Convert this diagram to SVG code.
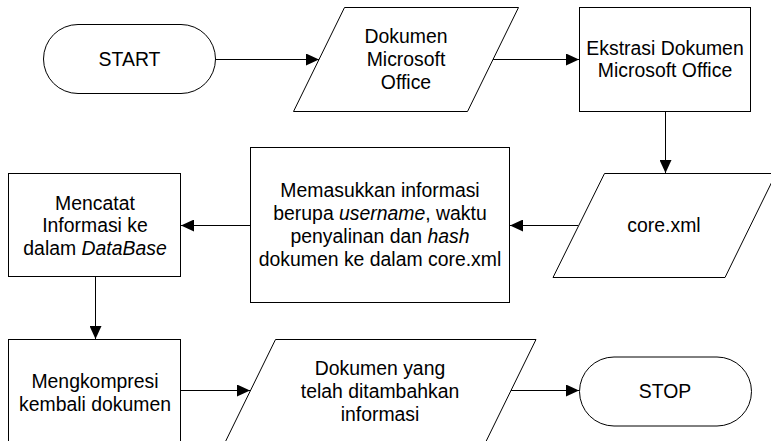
<svg xmlns="http://www.w3.org/2000/svg" width="771" height="441" viewBox="0 0 771 441">
<defs>
<style>
.s{fill:#fff;stroke:#000;stroke-width:1}
.c{fill:none;stroke:#000;stroke-width:1}
text{font-family:"Liberation Sans",Arial,sans-serif;font-size:19.4px;fill:#000;text-anchor:middle}
.i{font-style:italic}
</style>
<marker id="ah" markerUnits="userSpaceOnUse" markerWidth="13" markerHeight="12" refX="13" refY="6" orient="auto">
<path d="M0,0 L13,6 L0,12 z" fill="#000"/>
</marker>
</defs>
<rect width="771" height="441" fill="#fff"/>
<g id="connectors">
<path class="c" d="M216,59.5 H319" marker-end="url(#ah)"/>
<path class="c" d="M493,59.5 H579" marker-end="url(#ah)"/>
<path class="c" d="M665.5,111.5 V173" marker-end="url(#ah)"/>
<path class="c" d="M578,225.5 H510" marker-end="url(#ah)"/>
<path class="c" d="M250,225.5 H181" marker-end="url(#ah)"/>
<path class="c" d="M95.5,276.5 V339" marker-end="url(#ah)"/>
<path class="c" d="M181,390.5 H250" marker-end="url(#ah)"/>
<path class="c" d="M511,390.5 H579" marker-end="url(#ah)"/>
</g>
<g id="start">
<rect class="s" x="43.5" y="24.5" width="172" height="69" rx="34.5"/>
<text x="129.5" y="66">START</text>
</g>
<g id="dokumen">
<polygon class="s" points="344.5,7.5 518.5,7.5 467.5,111.5 293.5,111.5"/>
<text x="406" y="42.5">Dokumen</text>
<text x="406" y="65.5">Microsoft</text>
<text x="406" y="88.5">Office</text>
</g>
<g id="ekstrasi">
<rect class="s" x="579.5" y="7.5" width="171" height="104"/>
<text x="665" y="55">Ekstrasi Dokumen</text>
<text x="665" y="77">Microsoft Office</text>
</g>
<g id="corexml">
<polygon class="s" points="604.5,173.5 776,173.5 725,277.5 553,277.5"/>
<text x="664" y="232">core.xml</text>
</g>
<g id="memasukkan">
<rect class="s" x="250.5" y="147.5" width="259" height="155"/>
<text x="380" y="197">Memasukkan informasi</text>
<text x="380" y="220">berupa <tspan class="i">username</tspan>, waktu</text>
<text x="380" y="243">penyalinan dan <tspan class="i">hash</tspan></text>
<text x="380" y="266">dokumen ke dalam core.xml</text>
</g>
<g id="mencatat">
<rect class="s" x="8.5" y="173.5" width="172" height="103"/>
<text x="95" y="209.5">Mencatat</text>
<text x="95" y="232">Informasi ke</text>
<text x="95" y="254.5">dalam <tspan class="i">DataBase</tspan></text>
</g>
<g id="mengkompresi">
<rect class="s" x="8.5" y="339.5" width="172" height="120"/>
<text x="95" y="388">Mengkompresi</text>
<text x="95" y="411">kembali dokumen</text>
</g>
<g id="hasil">
<polygon class="s" points="275.5,339.5 536,339.5 485,443.5 224.5,443.5"/>
<text x="380" y="375">Dokumen yang</text>
<text x="380" y="398">telah ditambahkan</text>
<text x="380" y="421">informasi</text>
</g>
<g id="stop">
<rect class="s" x="579.5" y="357" width="172" height="69" rx="34.5"/>
<text x="665" y="398">STOP</text>
</g>
</svg>
